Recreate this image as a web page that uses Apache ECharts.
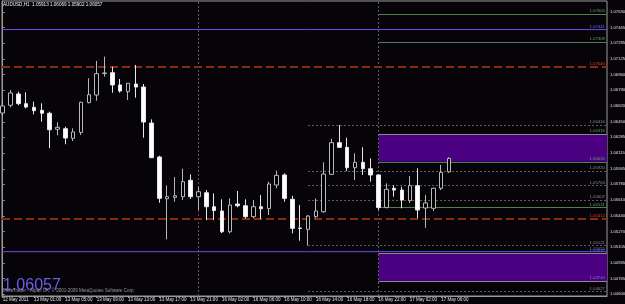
<!DOCTYPE html>
<html><head><meta charset="utf-8">
<script src="https://cdn.jsdelivr.net/npm/echarts@6/dist/echarts.min.js"></script>
<style>html,body{margin:0;padding:0;background:#060409;}#c{width:625px;height:304px;}</style>
</head><body><div id="c"></div>
<script>
// ---- data ----
const times = ['12 May 21:00','12 May 22:00','12 May 23:00','13 May 00:00','13 May 01:00','13 May 02:00','13 May 03:00','13 May 04:00','13 May 05:00','13 May 06:00',
 '13 May 07:00','13 May 08:00','13 May 09:00','13 May 10:00','13 May 11:00','13 May 12:00','13 May 13:00','13 May 14:00','13 May 15:00','13 May 16:00',
 '13 May 17:00','13 May 18:00','13 May 19:00','13 May 20:00','13 May 21:00','13 May 22:00','13 May 23:00','16 May 01:00','16 May 02:00','16 May 03:00',
 '16 May 04:00','16 May 05:00','16 May 06:00','16 May 07:00','16 May 08:00','16 May 09:00','16 May 10:00','16 May 11:00','16 May 12:00','16 May 13:00',
 '16 May 14:00','16 May 15:00','16 May 16:00','16 May 17:00','16 May 18:00','16 May 19:00','16 May 20:00','16 May 21:00','16 May 22:00','16 May 23:00',
 '17 May 00:00','17 May 01:00','17 May 02:00','17 May 03:00','17 May 04:00','17 May 05:00','17 May 06:00','17 May 07:00'];
const opens  = [1.06545,1.06628,1.06749,1.06645,1.06606,1.06574,1.06542,1.06370,1.06376,1.06273,
 1.06337,1.06656,1.06738,1.06969,1.06978,1.06846,1.06774,1.06856,1.06824,1.06437,
 1.06072,1.05624,1.05639,1.05646,1.05822,1.05646,1.05688,1.05538,1.05492,1.05269,
 1.05567,1.05549,1.05431,1.05538,1.05519,1.05771,1.05879,1.05618,1.05309,1.05295,
 1.05431,1.05484,1.05886,1.06226,1.06176,1.05957,1.06015,1.05946,1.05879,1.05529,
 1.05736,1.05717,1.05603,1.05764,1.05524,1.05521,1.05736,1.05913];
const closes = [1.06620,1.06760,1.06645,1.06609,1.06570,1.06542,1.06365,1.06391,1.06276,1.06341,
 1.06660,1.06741,1.06967,1.06975,1.06846,1.06781,1.06864,1.06824,1.06448,1.06065,
 1.05628,1.05646,1.05656,1.05807,1.05646,1.05699,1.05538,1.05497,1.05269,1.05556,
 1.05549,1.05431,1.05538,1.05517,1.05782,1.05875,1.05628,1.05306,1.05304,1.05438,
 1.05492,1.05889,1.06226,1.06176,1.05957,1.06015,1.05946,1.05879,1.05529,1.05725,
 1.05717,1.05610,1.05764,1.05503,1.05578,1.05736,1.05908,1.06057];
const lows   = [1.06513,1.06606,1.06628,1.06595,1.06531,1.06451,1.06166,1.06305,1.06209,1.06244,
 1.06308,1.06649,1.06677,1.06935,1.06763,1.06763,1.06685,1.06709,1.06279,1.06060,
 1.05581,1.05188,1.05592,1.05610,1.05621,1.05503,1.05395,1.05395,1.05255,1.05252,
 1.05532,1.05413,1.05413,1.05403,1.05449,1.05736,1.05592,1.05252,1.05173,1.05121,
 1.05413,1.05474,1.05880,1.06170,1.05920,1.05825,1.05879,1.05807,1.05503,1.05521,
 1.05646,1.05521,1.05578,1.05413,1.05312,1.05492,1.05717,1.05902];
const highs  = [1.06684,1.06792,1.06774,1.06767,1.06666,1.06649,1.06559,1.06445,1.06398,1.06380,
 1.06666,1.06918,1.07104,1.07150,1.07042,1.06910,1.06867,1.07061,1.06856,1.06477,
 1.06086,1.05768,1.05857,1.05946,1.05886,1.05753,1.05717,1.05682,1.05618,1.05628,
 1.05707,1.05618,1.05610,1.05664,1.05807,1.05925,1.05897,1.05656,1.05556,1.05449,
 1.05628,1.06015,1.06269,1.06416,1.06279,1.06112,1.06176,1.06058,1.05889,1.05789,
 1.05768,1.05753,1.05868,1.05951,1.05664,1.05742,1.05986,1.06069];

const yTicks = [1.07630,1.07465,1.07295,1.07125,1.06960,1.06790,1.06620,1.06450,1.06285,1.06115,
 1.05945,1.05780,1.05610,1.05440,1.05270,1.05105,1.04935,1.04765,1.04600];
const xTickIdx = [0,4,8,12,16,20,24,28,32,36,40,44,48,52,56];
const xTickLabels = ['12 May 2011','13 May 01:00','13 May 05:00','13 May 09:00','13 May 13:00','13 May 17:00','13 May 21:00',
 '16 May 02:00','16 May 06:00','16 May 10:00','16 May 14:00','16 May 18:00','16 May 22:00','17 May 02:00','17 May 06:00'];

const purpleLevels = [1.07441, 1.05055];
const redLevels = [1.07040, 1.05412];
const greenLevels = [1.07605, 1.07308, 1.06316, 1.06020, 1.05531];
const dottedLevels = [1.06416, 1.05920, 1.05764, 1.05607, 1.05121, 1.04627];
const zones = [[1.06316, 1.06020], [1.05037, 1.04740]];
const zoneEdges = [1.06316, 1.05037, 1.04740];
const separators = [25, 48];
const zoneStart = 48, dottedStart = 39;

// ---- chart ----
const XMIN = -0.089, XMAX = 77.18, YMIN = 1.04579, YMAX = 1.07748;
const FONT = 'Liberation Sans';
const AX = '#9a9a9a';
const PURPLE = '#6a4cf0';
const chart = echarts.init(document.getElementById('c'), null, {renderer: 'canvas'});
const candleData = times.map((t, i) => [i, opens[i], closes[i], lows[i], highs[i]]);
const fmt = v => Number(v).toFixed(5);

function levelSeries(levels, x0, color, type, width, labelColor, z, showLabel) {
  return {
    type: 'line', data: [], z: z, silent: true, color: color,
    markLine: {
      silent: true, animation: false, symbol: ['none', 'none'],
      lineStyle: {color: color, type: type, width: width, opacity: 1},
      label: {show: showLabel, position: 'insideEndTop', distance: [2, 1], color: labelColor,
        fontSize: 4.3, fontFamily: FONT, formatter: p => fmt(p.value)},
      emphasis: {disabled: true},
      data: levels.map(v => [{coord: [x0, v], value: v, lineStyle: {color: color}}, {coord: [XMAX, v], value: v}])
    }
  };
}
function fullLine(v, color) {
  return {type: 'line', z: 6, silent: true, showSymbol: false, symbol: 'none', animation: false,
    data: [[XMIN, v], [XMAX, v]], lineStyle: {color: color, width: 1, type: 'solid'}, itemStyle: {color: color},
    emphasis: {disabled: true}};
}

const last = times.length - 1;
const option = {
  animation: false,
  backgroundColor: '#060409',
  grid: {left: 2, right: 18, top: 1, bottom: 8, show: true, borderColor: AX, borderWidth: 1,
    backgroundColor: 'transparent', outerBoundsMode: 'none', containLabel: false},
  xAxis: {
    type: 'value', min: XMIN, max: XMAX,
    axisLine: {show: true, lineStyle: {color: AX, width: 1}},
    axisTick: {show: true, customValues: xTickIdx, length: 2, lineStyle: {color: AX}},
    axisLabel: {show: true, customValues: xTickIdx, formatter: v => xTickLabels[xTickIdx.indexOf(v)],
      align: 'left', margin: 1, fontSize: 4.5, fontFamily: FONT, color: '#e0e0e0', hideOverlap: false},
    splitLine: {show: false}
  },
  yAxis: {
    type: 'value', position: 'right', min: YMIN, max: YMAX, scale: true,
    axisLine: {show: true, lineStyle: {color: AX, width: 1}},
    axisTick: {show: true, customValues: yTicks, length: 2, lineStyle: {color: AX}},
    axisLabel: {show: true, customValues: yTicks, formatter: v => fmt(v), margin: 3,
      fontSize: 4.2, fontFamily: FONT, color: '#e0e0e0', hideOverlap: false},
    splitLine: {show: false}
  },
  graphic: [
    {type: 'text', x: 3, y: 5, z: 100, style: {text: 'AUDUSD,H1  ' + fmt(opens[last]) + ' ' + fmt(highs[last]) + ' ' + fmt(lows[last]) + ' ' + fmt(closes[last]),
      fill: '#f0f0f0', font: '4.6px "Liberation Sans"', verticalAlign: 'middle', align: 'left'}},
    {type: 'text', x: 3, y: 286, z: 100, style: {text: fmt(closes[last]), fill: '#6c5ce7',
      font: '16px "Liberation Sans"', verticalAlign: 'middle', align: 'left'}},
    {type: 'text', x: 3, y: 291, z: 101, style: {text: 'MetaTrader - Alpari UK, © 2001-2009 MetaQuotes Software Corp.',
      fill: '#9a9a9a', font: '4.5px "Liberation Sans"', verticalAlign: 'middle', align: 'left'}}
  ],
  series: [
    {type: 'line', data: [], z: 1, silent: true,
      markArea: {silent: true, itemStyle: {color: '#4b0082'},
        data: zones.map(zn => [{coord: [zoneStart, zn[0]]}, {coord: [XMAX, zn[1]]}])}},
    {type: 'line', data: [], z: 2, silent: true,
      markLine: {silent: true, symbol: ['none', 'none'], label: {show: false},
        lineStyle: {color: '#5c5c5c', type: [2, 2], width: 1},
        data: separators.map(s => ({xAxis: s}))}},
    levelSeries(dottedLevels, dottedStart, '#5e5e5e', [2, 2], 1, '#8a8a8a', 3, true),
    levelSeries(greenLevels, zoneStart, '#4f7f4f', 'solid', 1, '#62a062', 4, true),
    levelSeries(zoneEdges.slice(0, 1), zoneStart, '#8a8a8a', 'solid', 1, '#8a8a8a', 5, false),
    levelSeries(zoneEdges.slice(1), zoneStart, '#8a8a8a', 'solid', 1, '#8078c0', 5, true),
    ...purpleLevels.map(v => fullLine(v, PURPLE)),
    levelSeries(purpleLevels, XMIN, PURPLE, 'solid', 0, '#7a6ae0', 6, true),
    levelSeries(redLevels, XMIN, '#8a2a10', [8, 4], 2, '#e04a14', 6, true),
    {type: 'candlestick', z: 8, data: candleData, encode: {x: 0, y: [1, 2, 3, 4]}, barWidth: 4, clip: true,
      itemStyle: {color: '#000000', color0: '#ffffff', borderColor: '#b8b8b8', borderColor0: '#e8e8e8', borderWidth: 1},
      emphasis: {disabled: true},
      markLine: {silent: true, symbol: ['none', 'none'], lineStyle: {opacity: 0, width: 0},
        label: {show: true, position: 'end', distance: 2, formatter: p => fmt(p.value), backgroundColor: '#ffffff',
          color: '#000000', fontSize: 4.3, fontFamily: FONT, padding: [1, 1, 0, 1]},
        data: [{yAxis: closes[last]}]}},
    {type: 'scatter', z: 9, data: [[57.9, 1.06072]], symbolSize: 1, itemStyle: {opacity: 0}, silent: true,
      label: {show: true, position: 'right', distance: 0, formatter: '\u2039' + '28.4',
        color: '#e0a020', fontSize: 4.5, fontFamily: FONT}}
  ]
};
chart.setOption(option);
</script>
</body></html>
